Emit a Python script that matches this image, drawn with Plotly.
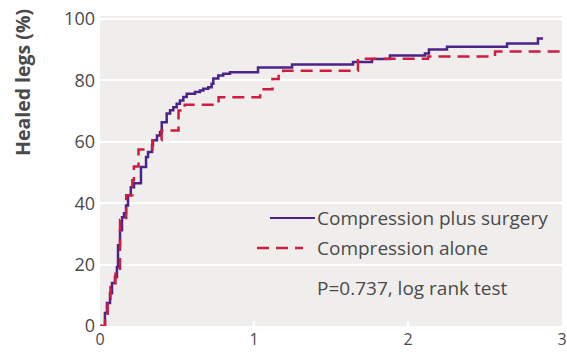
import plotly.graph_objects as go

# ---- data ----
surgery_t = [0, 0.032, 0.045, 0.065, 0.078, 0.097, 0.11, 0.117, 0.13, 0.143, 0.156, 0.169,
             0.182, 0.2, 0.221, 0.266, 0.299, 0.312, 0.338, 0.344, 0.37, 0.39, 0.401, 0.433,
             0.455, 0.476, 0.498, 0.519, 0.541, 0.563, 0.617, 0.649, 0.671, 0.703, 0.725,
             0.736, 0.768, 0.8, 0.844, 1.026, 1.247, 1.643, 1.766, 1.883, 2.11, 2.136,
             2.253, 2.643, 2.844, 2.877]
surgery_v = [0, 4.2, 7.5, 10.7, 14.0, 16.0, 19.2, 26.3, 31.2, 35.4, 36.7, 39.3,
             42.6, 45.2, 46.5, 51.8, 55.1, 56.7, 58.9, 60.5, 62.1, 63.2, 66.4, 69.2,
             70.3, 71.3, 72.4, 73.5, 74.6, 75.7, 76.2, 76.7, 77.3, 77.8, 78.9,
             80.6, 81.6, 82.2, 82.7, 84.2, 85.2, 86.0, 87.0, 88.1, 88.8, 90.1,
             91.0, 92.0, 93.7, 93.7]

alone_t = [0, 0.033, 0.05, 0.068, 0.1, 0.13, 0.17, 0.21, 0.22, 0.25, 0.34, 0.40, 0.51,
           0.55, 0.77, 1.04, 1.12, 1.16, 1.19, 1.675, 2.13, 2.565, 3.0]
alone_v = [0, 4.0, 9.0, 12.7, 18.0, 34.5, 42.6, 47.5, 52.0, 57.5, 60.5, 63.7, 70.2,
           72.1, 74.5, 77.1, 80.5, 82.6, 83.2, 87.1, 87.8, 89.4, 89.4]

series_names = ["Compression plus surgery", "Compression alone"]
x_ticks = [0, 1, 2, 3]
y_ticks = [0, 20, 40, 60, 80, 100]
y_title = "Healed legs (%)"
p_text = "P=0.737, log rank test"

PURPLE = "#4b2389"
RED = "#d01c40"
TXT = "#4a4a4a"
FONT = "Open Sans"

W, H = 567, 352
L, R, T, B = 100, 5, 16, 26


def px(x):
    return (x - L) / (W - L - R)


def py(y):
    return (H - B - y) / (H - T - B)


fig = go.Figure()
fig.add_trace(go.Scatter(x=surgery_t, y=surgery_v, mode="lines", line_shape="hv",
                         line=dict(color=PURPLE, width=2.5), name=series_names[0],
                         showlegend=False))
fig.add_trace(go.Scatter(x=alone_t, y=alone_v, mode="lines", line_shape="hv",
                         line=dict(color=RED, width=2.5, dash="12px,7px"),
                         name=series_names[1], showlegend=False))

# legend drawn manually
fig.add_shape(type="line", xref="paper", yref="paper", x0=px(270), x1=px(315),
              y0=py(218), y1=py(218), line=dict(color=PURPLE, width=2))
fig.add_shape(type="line", xref="paper", yref="paper", x0=px(257), x1=px(303),
              y0=py(248), y1=py(248), line=dict(color=RED, width=2.5, dash="12px,7px"))
for name, yy in zip(series_names, [218, 248]):
    fig.add_annotation(text=name, xref="paper", yref="paper", x=px(315), y=py(yy),
                       xanchor="left", yanchor="middle", showarrow=False,
                       font=dict(family=FONT, size=19, color=TXT))
fig.add_annotation(text=p_text, xref="paper", yref="paper", x=px(315), y=py(288),
                   xanchor="left", yanchor="middle", showarrow=False,
                   font=dict(family=FONT, size=19, color=TXT))
fig.add_annotation(text="<b>" + y_title + "</b>", xref="paper", yref="paper",
                   x=px(22), y=py(83), textangle=-90, xanchor="center", yanchor="middle",
                   showarrow=False, font=dict(family=FONT, size=19.5, color=TXT))

fig.update_layout(
    width=W, height=H,
    margin=dict(l=L, r=R, t=T, b=B, autoexpand=False),
    paper_bgcolor="white",
    plot_bgcolor="#efeeec",
    font=dict(family=FONT, size=18, color=TXT),
    showlegend=False,
)
fig.update_xaxes(range=[0, 3], tickvals=x_ticks, ticktext=[str(v) for v in x_ticks],
                 showgrid=False, zeroline=False, showline=False, automargin=False,
                 tickfont=dict(size=16), ticklabelstandoff=2,
                 ticks="inside", ticklen=5, tickcolor="white", tickwidth=2)
fig.update_yaxes(range=[0, 101], tickvals=y_ticks, ticktext=[str(v) for v in y_ticks],
                 showgrid=True, gridcolor="white", gridwidth=2, zeroline=False,
                 showline=False, ticks="", ticklabelstandoff=4, automargin=False)

fig.write_html("out.html", config={"displayModeBar": False},
               post_script="document.body.style.margin='0';document.body.style.padding='0';")
